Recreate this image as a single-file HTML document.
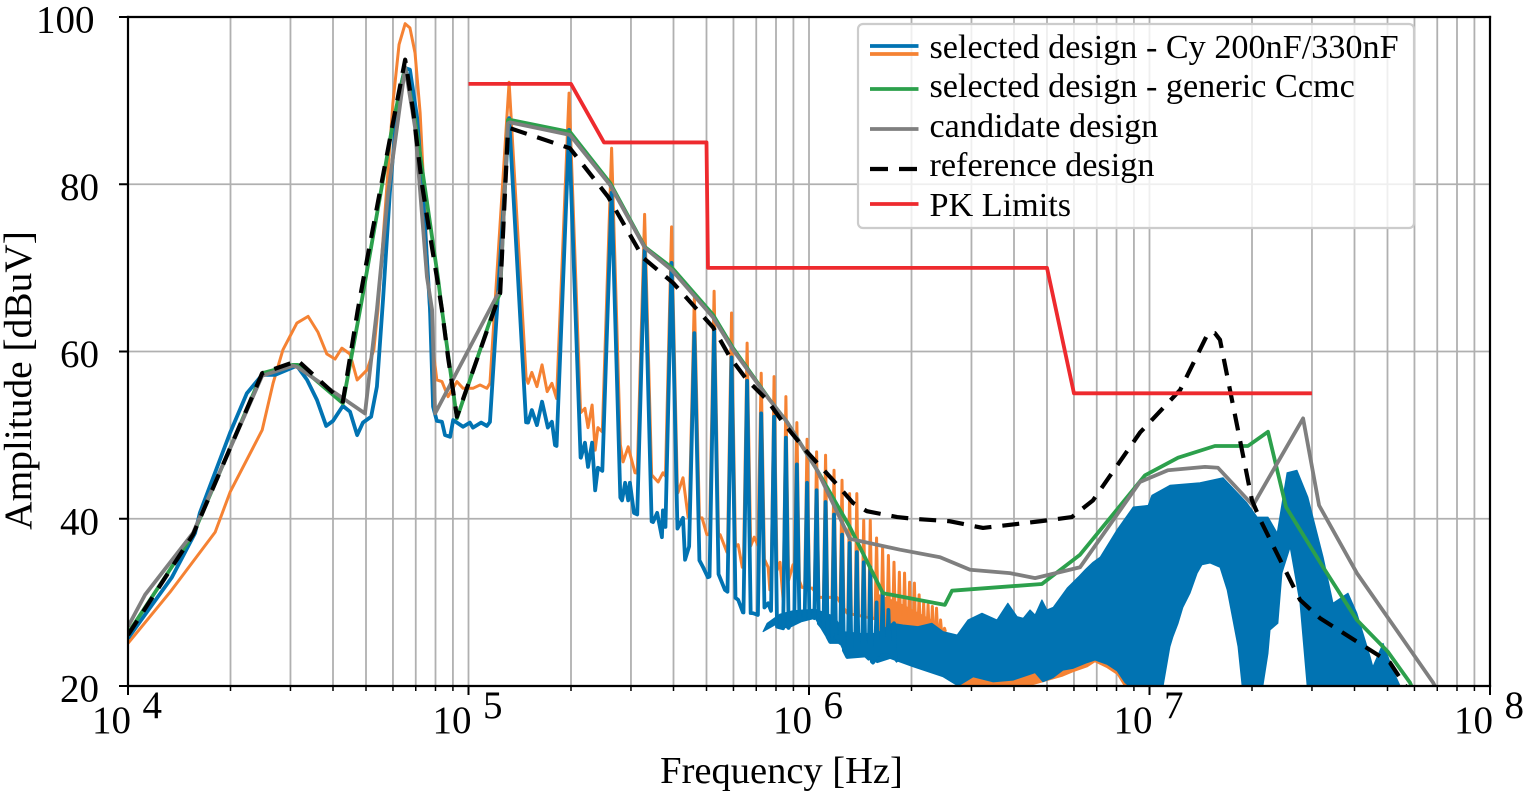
<!DOCTYPE html>
<html lang="en">
<head>
<meta charset="utf-8">
<title>Amplitude vs Frequency</title>
<style>
  html, body { margin: 0; padding: 0; background: #fff; }
  svg { display: block; font-family: "Liberation Serif", "Times New Roman", serif; }
</style>
</head>
<body>
<svg id="chart" xmlns="http://www.w3.org/2000/svg" width="1524" height="794" viewBox="0 0 1524 794">
  <defs>
    <clipPath id="plot-clip"><rect x="128" y="17" width="1362" height="669"></rect></clipPath>
  </defs>
  <rect x="0" y="0" width="1524" height="794" fill="#ffffff"></rect>
  <g id="grid"></g>
  <g id="series" clip-path="url(#plot-clip)"></g>
  <g id="axes"></g>

  <g>
    <rect x="858" y="24" width="556" height="204" rx="5" ry="5" fill="#ffffff" fill-opacity="0.8" stroke="#cccccc" stroke-width="2.2"></rect>
    <line x1="870" x2="918.5" y1="46" y2="46" stroke="#0173b2" stroke-width="3.8"></line>
    <line x1="870" x2="918.5" y1="54" y2="54" stroke="#f58233" stroke-width="3.8"></line>
    <text x="929.5" y="58" font-size="34.2" fill="#000">selected design - Cy 200nF/330nF</text>
    <line x1="870" x2="918.5" y1="89" y2="89" stroke="#2ca04c" stroke-width="3.8"></line>
    <text x="929.5" y="97" font-size="34.2" fill="#000">selected design - generic Ccmc</text>
    <line x1="870" x2="918.5" y1="129" y2="129" stroke="#7f7f7f" stroke-width="3.8"></line>
    <text x="929.5" y="137" font-size="34.2" fill="#000">candidate design</text>
    <line x1="870" x2="918.5" y1="169" y2="169" stroke="#000000" stroke-width="4.2" stroke-dasharray="18 11"></line>
    <text x="929.5" y="176" font-size="34.2" fill="#000">reference design</text>
    <line x1="870" x2="918.5" y1="204" y2="204" stroke="#ee2a2e" stroke-width="3.8"></line>
    <text x="929.5" y="216" font-size="34.2" fill="#000">PK Limits</text>
  </g>

  <text x="781.5" y="783" font-size="38.5" text-anchor="middle" fill="#000">Frequency [Hz]</text>
  <text transform="translate(31,380.5) rotate(-90)" font-size="39.4" text-anchor="middle" fill="#000">Amplitude [dBuV]</text>
</svg>

<script>
// ---- axis data ----
const xTickExponents = [4, 5, 6, 7, 8];
const yTickValues = [20, 40, 60, 80, 100];

// ---- PK limit line (Hz, dBuV) ----
const limitHz = [1e5, 2e5, 2.5e5, 5e5, 5.05e5, 5e6, 6e6, 3e7];
const limitDb = [92, 92, 85, 85, 70, 70, 55, 55];

// ---- reference design (log10 Hz, dBuV) ----
const referenceLogHz = [4.000,4.191,4.394,4.499,4.631,4.675,4.696,4.778,4.814,4.837,4.863,4.881,4.907,4.922,4.940,4.966,5.093,5.116,5.122,5.298,5.410,5.513,5.601,5.718,5.768,5.818,5.877,5.924,5.994,6.071,6.129,6.170,6.259,6.306,6.414,6.511,6.679,6.772,6.834,6.972,7.090,7.172,7.192,7.207,7.301,7.325,7.442,7.501,7.706,7.745,7.77];
const referenceDb = [26.1,38.1,57.4,58.9,54.0,65.0,69.7,87.3,94.9,88.9,80.1,75.4,68.9,65.0,59.3,52.2,67.0,86.5,86.7,84.3,78.5,71.2,68.2,62.9,59.3,56.6,54.2,51.5,48.0,44.6,41.9,40.9,40.2,40.0,39.7,38.9,39.7,40.2,42.2,50.3,55.4,62.2,62.2,61.4,42.2,39.9,30.3,28.1,22.8,20.4,19];

// ---- candidate design ----
const candidateLogHz = [4.000,4.050,4.191,4.211,4.394,4.485,4.499,4.696,4.731,4.764,4.814,4.843,4.878,4.893,4.902,5.093,5.116,5.122,5.298,5.416,5.518,5.598,5.718,5.777,5.877,5.935,6.024,6.120,6.267,6.385,6.473,6.590,6.664,6.796,6.972,7.054,7.163,7.201,7.304,7.451,7.498,7.609,7.833,7.85];
const candidateDb = [27.1,30.9,38.3,40.2,57.1,58.3,58.1,52.6,65.0,79.0,94.0,86.8,68.9,65.0,52.6,67.4,87.3,87.4,85.9,79.9,72.4,69.7,64.1,60.2,54.6,51.6,45.8,37.6,36.3,35.4,33.9,33.5,32.9,34.2,44.4,45.8,46.2,46.1,41.6,52.0,41.6,33.5,20.4,19];

// ---- selected design, generic Ccmc ----
const genericLogHz = [4.000,4.191,4.394,4.485,4.499,4.631,4.687,4.778,4.814,4.843,4.910,4.922,4.966,5.084,5.093,5.116,5.122,5.298,5.416,5.518,5.598,5.718,5.777,5.885,5.935,6.024,6.120,6.217,6.399,6.420,6.684,6.796,6.987,7.084,7.192,7.289,7.348,7.401,7.510,7.609,7.700,7.765,7.78];
const genericDb = [26.3,38.1,57.4,58.4,58.4,53.8,66.2,87.3,94.0,87.7,68.9,65.0,52.0,66.2,67.0,87.7,87.7,86.25,80.15,72.5,70.0,64.4,60.4,54.2,51.6,45.8,39.0,31.1,29.7,31.4,32.2,35.7,45.2,47.3,48.7,48.7,50.4,41.4,34.2,27.9,24.1,20.4,19];

// ---- switching harmonics ----
const fundamentalKHz = [65.8];
const harmonicHalfBaseKHz = [16];
// peak amplitude of harmonics n = 2, 3, 4 ...
const bluePeakDb = [87.9,86.5,79.0,72.1,70.6,62.2,62.6,59.3,56.5,52.6,52.2,49.7,46.5,44.3,43.4,42.0,40.5,38.1,37.1,36.0,34.8,34.2,30.0,31.2,29.1,27.5];
const orangePeakDb = [92.2,90.9,84.3,76.4,74.9,66.5,67.2,64.6,61.0,57.4,57.0,54.6,51.5,49.5,48.0,47.6,45.8,44.6,43.0,43.0,39.8,39.8,37.7,36.6,35.6,34.8,33.6,33.5,32.4,32.3,30.9,29.9,29.7,29.5,29.3,27.9,26.9];

// ---- Cy 200nF trace between harmonics ----
const blueFloorLogHz = [4.000,4.129,4.197,4.211,4.300,4.349,4.394,4.432,4.496,4.526,4.555,4.582,4.602,4.631,4.652,4.673,4.690,4.714,4.731,4.749,4.769,4.793,4.814,4.828,4.849,4.866,4.887,4.896,4.907,4.922,4.931,4.946,4.955,4.984,5.004,5.013,5.037,5.054,5.075,5.175,5.186,5.201,5.216,5.233,5.245,5.254,5.330,5.342,5.351,5.363,5.372,5.380,5.401,5.451,5.460,5.469,5.474,5.486,5.542,5.554,5.568,5.571,5.583,5.612,5.630,5.636,5.651,5.689,5.703,5.733,5.753,5.792,5.806,5.836,5.850,5.880,5.906,5.924,5.938,5.953,5.979,6.012,6.041,6.062,6.082,6.112,6.135,6.159,6.188,6.209,6.238,6.261];
const blueFloorDb = [25.7,33.0,38.3,40.7,50.3,55.0,57.2,57.2,58.3,56.6,54.2,51.1,51.7,53.5,52.8,50.0,51.5,52.2,55.8,66.2,79.0,90.4,93.9,93.7,88.0,79.0,65.0,53.4,51.7,51.6,50.0,49.8,51.8,51.0,51.5,50.9,51.5,51.1,52.2,51.5,53.0,51.2,54.0,50.9,51.6,48.8,47.3,49.1,46.2,49.1,43.4,46.1,45.5,42.2,44.3,42.2,44.3,40.7,39.6,40.7,37.8,41.0,37.8,38.7,40.1,35.1,37.1,34.2,33.0,33.5,31.5,30.3,28.8,28.7,28.5,29.9,27.1,26.9,26.7,28.3,27.9,28.3,26.9,25.3,25.9,23.5,24.3,23.9,22.8,24.1,24.1,22.9];

// ---- Cy 330nF trace between harmonics ----
const orangeFloorLogHz = [4.000,4.123,4.256,4.300,4.394,4.426,4.455,4.496,4.529,4.558,4.584,4.608,4.628,4.652,4.673,4.702,4.722,4.734,4.778,4.796,4.814,4.828,4.843,4.858,4.872,4.886,4.896,4.907,4.922,4.940,4.966,4.984,5.013,5.034,5.054,5.075,5.160,5.175,5.186,5.201,5.216,5.231,5.245,5.260,5.327,5.342,5.351,5.363,5.372,5.380,5.395,5.445,5.454,5.469,5.489,5.539,5.557,5.571,5.615,5.630,5.645,5.686,5.700,5.739,5.759,5.792,5.804,5.839,5.880,5.885,5.915,5.924,5.953,5.979,6.009,6.032,6.082,6.112,6.261,6.355];
const orangeFloorDb = [25.1,31.2,38.4,43.2,50.6,56.2,60.2,63.4,64.2,62.3,59.7,59.1,60.4,59.7,56.6,57.8,60.2,65.0,89.7,96.7,99.2,98.7,95.7,88.5,76.9,65.0,60.2,56.6,56.4,54.6,56.4,55.6,55.6,56.0,55.6,57.0,58.1,56.2,57.5,55.8,58.4,55.2,56.2,54.2,52.6,53.2,50.9,53.6,48.2,50.9,50.3,49.1,46.8,48.6,45.5,45.2,44.4,45.5,43.1,44.9,40.2,40.1,38.1,38.1,36.0,36.9,34.2,37.8,34.2,31.5,34.8,30.3,34.5,31.8,31.7,30.6,30.6,28.7,27.5,26.5];

// ---- dense high-frequency band (upper / lower envelope) ----
const blueBandUpperLogHz = [5.877,5.915,5.953,6.018,6.076,6.100,6.150,6.200,6.244,6.276,6.320,6.361,6.394,6.435,6.467,6.508,6.552,6.584,6.611,6.629,6.649,6.664,6.684,6.699,6.717,6.758,6.790,6.811,6.834,6.855,6.905,6.952,6.996,7.007,7.060,7.148,7.216,7.286,7.316,7.348,7.375,7.404,7.433,7.465,7.510,7.539,7.583,7.609,7.648,7.656,7.686,7.715,7.736];
const blueBandUpperDb = [27.5,28.6,29.0,29.2,28.3,26.5,26.3,26.3,27.5,27.3,27.1,27.5,26.5,26.1,27.9,28.7,27.9,29.9,28.3,28.1,29.1,28.5,30.3,29.1,29.4,31.7,33.0,33.9,34.8,35.4,38.7,41.4,41.6,42.8,44.0,44.3,44.9,41.9,40.2,40.2,38.3,45.5,45.8,42.6,35.4,29.9,31.1,28.7,23.5,22.3,25.1,21.9,20.0];
const blueBandLowerLogHz = [5.865,5.900,5.938,5.979,6.018,6.041,6.062,6.091,6.112,6.170,6.200,6.238,6.306,6.394,6.438,6.482,6.540,6.599,6.664,6.687,6.717,6.746,6.775,6.817,6.840,6.875,6.905,6.928,6.940,7.040,7.060,7.069,7.084,7.098,7.119,7.140,7.154,7.178,7.207,7.228,7.245,7.260,7.272,7.333,7.348,7.354,7.377,7.389,7.413,7.442,7.463,7.736];
const blueBandLowerDb = [26.5,27.3,26.9,27.7,28.1,26.5,25.1,25.1,23.3,23.5,22.8,23.3,22.3,21.1,20.0,21.1,20.5,20.7,21.6,20.5,21.0,21.9,22.1,22.8,23.1,22.6,21.8,20.4,20.0,20.0,24.7,25.9,27.5,29.4,31.1,33.5,34.5,34.7,34.2,31.5,27.9,24.7,20.0,20.0,23.9,26.7,27.5,33.5,36.6,29.9,20.0,20.0];
const orangeBandLogHz = [6.200,6.261,6.355,6.400,6.440,6.500,6.600,6.746,6.775,6.817,6.840,6.875,6.905,6.934,7.040];
const orangeBandUpperDb = [31.0,30.0,28.0,26.5,25.5,26.0,26.0,26.0,26.0,30.0,30.0,30.0,30.0,30.0,30.0];
const orangeBandLowerDb = [25.0,24.0,22.5,21.5,20.0,19.5,19.5,21.2,21.7,22.3,22.9,22.2,21.4,19.5,19.5];

// ---- scales ----
const NS = 'http://www.w3.org/2000/svg';
const plot = { left: 128, right: 1490, top: 17, bottom: 686 };
const xDecades = { min: 4, max: 8 };
const yRange = { min: 20, max: 100 };
function xScale(logHz) {
  return plot.left + (logHz - xDecades.min) / (xDecades.max - xDecades.min) * (plot.right - plot.left);
}
function yScale(db) {
  return plot.bottom - (db - yRange.min) / (yRange.max - yRange.min) * (plot.bottom - plot.top);
}
function toPath(logs, dbs) {
  return logs.map(function (l, i) {
    return (i ? 'L' : 'M') + xScale(l).toFixed(2) + ' ' + yScale(dbs[i]).toFixed(2);
  }).join(' ');
}
function interp(logs, dbs, l) {
  if (l <= logs[0]) return dbs[0];
  for (let i = 1; i < logs.length; i++) {
    if (l <= logs[i]) {
      const t = (l - logs[i - 1]) / (logs[i] - logs[i - 1]);
      return dbs[i - 1] + t * (dbs[i] - dbs[i - 1]);
    }
  }
  return dbs[dbs.length - 1];
}
// merge the between-harmonic trace with harmonic peaks n = 2, 3, ...
function mergeHarmonics(floorLogs, floorDbs, peaks) {
  const windows = peaks.map(function (p, i) {
    const f = fundamentalKHz[0] * (i + 2);
    return {
      lo: Math.log10((f - harmonicHalfBaseKHz[0]) * 1e3),
      tip: Math.log10(f * 1e3),
      hi: Math.log10((f + harmonicHalfBaseKHz[0]) * 1e3),
      db: p
    };
  });
  const pts = [];
  floorLogs.forEach(function (l, i) {
    const inside = windows.some(function (w) { return l >= w.lo && l <= w.hi; });
    if (!inside) pts.push([l, floorDbs[i]]);
  });
  windows.forEach(function (w) {
    pts.push([w.lo, interp(floorLogs, floorDbs, w.lo)]);
    pts.push([w.tip, w.db]);
    pts.push([w.hi, interp(floorLogs, floorDbs, w.hi)]);
  });
  pts.sort(function (a, b) { return a[0] - b[0]; });
  return {
    logs: pts.map(function (p) { return p[0]; }),
    dbs: pts.map(function (p) { return p[1]; })
  };
}
function line(parent, x1, y1, x2, y2, stroke, width) {
  const el = document.createElementNS(NS, 'line');
  el.setAttribute('x1', x1);
  el.setAttribute('y1', y1);
  el.setAttribute('x2', x2);
  el.setAttribute('y2', y2);
  el.setAttribute('stroke', stroke);
  el.setAttribute('stroke-width', width);
  parent.appendChild(el);
  return el;
}
function drawCurve(parent, d, color, width, dash) {
  const el = document.createElementNS(NS, 'path');
  el.setAttribute('d', d);
  el.setAttribute('fill', 'none');
  el.setAttribute('stroke', color);
  el.setAttribute('stroke-width', width);
  el.setAttribute('stroke-linejoin', 'round');
  if (dash) el.setAttribute('stroke-dasharray', dash);
  parent.appendChild(el);
  return el;
}
function drawBand(parent, upLogs, upDbs, lowLogs, lowDbs, color) {
  const el = document.createElementNS(NS, 'path');
  const d = toPath(upLogs, upDbs) + ' ' + toPath(lowLogs.slice().reverse(), lowDbs.slice().reverse()).replace('M', 'L') + ' Z';
  el.setAttribute('d', d);
  el.setAttribute('fill', color);
  el.setAttribute('stroke', color);
  el.setAttribute('stroke-width', '1');
  el.setAttribute('stroke-linejoin', 'round');
  parent.appendChild(el);
  return el;
}

// ---- grid ----
const gridG = document.getElementById('grid');
const GRID = '#b0b0b0';
for (let e = xDecades.min; e <= xDecades.max; e++) {
  for (let m = 1; m <= 9; m++) {
    if (e === xDecades.max && m > 1) break;
    const px = xScale(e + Math.log10(m));
    const g = line(gridG, px, plot.top, px, plot.bottom, GRID, 1.8);
    
    
  }
}
yTickValues.forEach(function (v) {
  const g = line(gridG, plot.left, yScale(v), plot.right, yScale(v), GRID, 1.8);
  
  
});

// ---- series ----
const seriesG = document.getElementById('series');
const orangeTrace = mergeHarmonics(orangeFloorLogHz, orangeFloorDb, orangePeakDb);
const blueTrace = mergeHarmonics(blueFloorLogHz, blueFloorDb, bluePeakDb);

const orangeBandMark = drawBand(seriesG, orangeBandLogHz, orangeBandUpperDb, orangeBandLogHz, orangeBandLowerDb, '#f58233');



const orangeMark = drawCurve(seriesG, toPath(orangeTrace.logs, orangeTrace.dbs), '#f58233', 3);



const blueBandMark = drawBand(seriesG, blueBandUpperLogHz, blueBandUpperDb, blueBandLowerLogHz, blueBandLowerDb, '#0173b2');



const blueMark = drawCurve(seriesG, toPath(blueTrace.logs, blueTrace.dbs), '#0173b2', 3.8);



const genericMark = drawCurve(seriesG, toPath(genericLogHz, genericDb), '#2ca04c', 3.8);



const candidateMark = drawCurve(seriesG, toPath(candidateLogHz, candidateDb), '#7f7f7f', 3.8);



const referenceMark = drawCurve(seriesG, toPath(referenceLogHz, referenceDb), '#000000', 4.2, '17 11');



const limitMark = drawCurve(seriesG, toPath(limitHz.map(function (h) { return Math.log10(h); }), limitDb), '#ee2a2e', 3.8);



// ---- axes: spines, ticks, labels ----
const axesG = document.getElementById('axes');
function spine(name, x1, y1, x2, y2) {
  const s = line(axesG, x1, y1, x2, y2, '#000', 2.2);
  s.setAttribute('stroke-linecap', 'square');
  
  
}
spine('spine-top', plot.left, plot.top, plot.right, plot.top);
spine('spine-bottom', plot.left, plot.bottom, plot.right, plot.bottom);
spine('spine-left', plot.left, plot.top, plot.left, plot.bottom);
spine('spine-right', plot.right, plot.top, plot.right, plot.bottom);

function addText(content, x, y, anchor) {
  const t = document.createElementNS(NS, 'text');
  t.setAttribute('x', x);
  t.setAttribute('y', y);
  t.setAttribute('font-size', '39');
  t.setAttribute('fill', '#000');
  if (anchor) t.setAttribute('text-anchor', anchor);
  t.textContent = content;
  axesG.appendChild(t);
  return t;
}
xTickExponents.forEach(function (e) {
  const px = xScale(e);
  const major = line(axesG, px, plot.bottom, px, plot.bottom + 9, '#000', 2);
  
  
  const base = addText('10', px - 36, 733);
  
  
  const sup = addText(String(e), px + 14.5, 718);
  
  
  if (e < xDecades.max) {
    for (let m = 2; m <= 9; m++) {
      const mx = xScale(e + Math.log10(m));
      const minor = line(axesG, mx, plot.bottom, mx, plot.bottom + 5, '#000', 1.5);
      
      
    }
  }
});
yTickValues.forEach(function (v) {
  const py = yScale(v);
  const tick = line(axesG, plot.left - 9, py, plot.left, py, '#000', 2);
  
  
  const label = addText(String(v), String(v).length > 2 ? 94.5 : 99, py + 15.5, 'end');
  
  
});
</script>
</body>
</html>
